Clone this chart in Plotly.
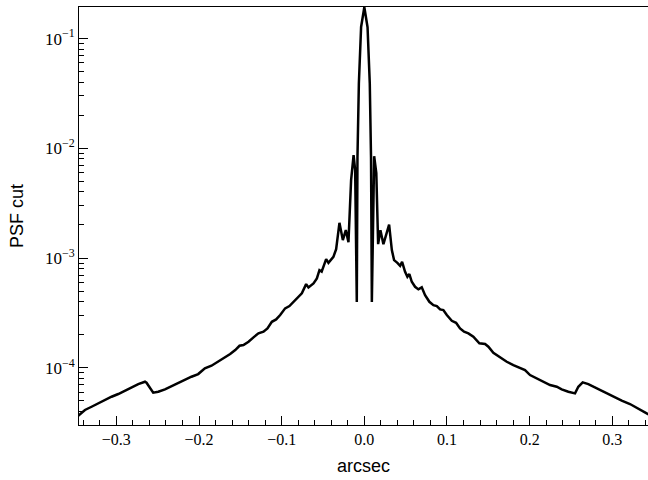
import plotly.graph_objects as go

# PSF cut (arcsec, PSF value)
wing_left_x = [-0.3502, -0.3380, -0.3300, -0.3219, -0.3138, -0.3058, -0.2977, -0.2896, -0.2816,
               -0.2735, -0.2654, -0.2635, -0.2554, -0.2493, -0.2412, -0.2333, -0.2252, -0.2170,
               -0.2091, -0.2010, -0.1929, -0.1849, -0.1768, -0.1683, -0.1623, -0.1562, -0.1510,
               -0.1462, -0.1401, -0.1341, -0.1281, -0.1220, -0.1172, -0.1119, -0.1067, -0.1018,
               -0.0958, -0.0906, -0.0857, -0.0809, -0.0756, -0.0704, -0.0676, -0.0615, -0.0574,
               -0.0543, -0.0516, -0.0462, -0.0434, -0.0374, -0.0341]
wing_left_y = [3.44e-5, 4.12e-5, 4.41e-5, 4.74e-5, 5.08e-5, 5.44e-5, 5.76e-5, 6.17e-5, 6.63e-5,
               7.10e-5, 7.46e-5, 7.30e-5, 5.92e-5, 6.04e-5, 6.36e-5, 6.81e-5, 7.21e-5, 7.73e-5,
               8.28e-5, 8.76e-5, 9.87e-5, 1.043e-4, 1.134e-4, 1.259e-4, 1.333e-4, 1.449e-4, 1.586e-4,
               1.609e-4, 1.725e-4, 1.891e-4, 2.057e-4, 2.128e-4, 2.285e-4, 2.623e-4, 2.759e-4, 3.020e-4,
               3.475e-4, 3.646e-4, 3.991e-4, 4.285e-4, 4.760e-4, 5.785e-4, 5.398e-4, 5.871e-4, 6.52e-4,
               7.76e-4, 7.52e-4, 9.77e-4, 9.04e-4, 1.025e-3, 1.205e-3]

core_x = [-0.0301, -0.0260, -0.0224, -0.0192, -0.0160, -0.0130, -0.0111, -0.0091, -0.0083,
          -0.0066, -0.0039, 0.0, 0.0039, 0.0066, 0.0081, 0.0091, 0.0119, 0.0145, 0.0167,
          0.0195, 0.0231, 0.0267, 0.0300, 0.0333]
core_y = [2.092e-3, 1.456e-3, 1.795e-3, 1.396e-3, 5.12e-3, 8.65e-3, 6.32e-3, 3.97e-4, 8.30e-3,
          3.92e-2, 0.1275, 0.1927, 0.127, 3.9e-2, 8.3e-3, 3.97e-4, 8.47e-3, 5.93e-3, 1.338e-3,
          1.795e-3, 1.338e-3, 1.651e-3, 2.014e-3, 1.180e-3]

wing_right_x = [0.0360, 0.0400, 0.0433, 0.0457, 0.0493, 0.0521, 0.0545, 0.0574, 0.0614, 0.0654,
                0.0695, 0.0735, 0.0787, 0.0836, 0.0877, 0.0917, 0.0956, 0.0998, 0.1058, 0.1110,
                0.1158, 0.1207, 0.1259, 0.1319, 0.1392, 0.1461, 0.1501, 0.1561, 0.1642, 0.1723,
                0.1803, 0.1884, 0.1944, 0.2005, 0.2086, 0.2166, 0.2247, 0.2328, 0.2388, 0.2468,
                0.2549, 0.2589, 0.2642, 0.2710, 0.2811, 0.2912, 0.3012, 0.3114, 0.3214, 0.3314,
                0.3416, 0.3480]
wing_right_y = [9.57e-4, 9.04e-4, 8.49e-4, 9.23e-4, 7.48e-4, 6.74e-4, 7.14e-4, 6.07e-4, 5.47e-4, 5.18e-4,
                5.40e-4, 4.59e-4, 3.99e-4, 3.72e-4, 3.65e-4, 3.40e-4, 3.35e-4, 3.02e-4, 2.68e-4, 2.57e-4,
                2.285e-4, 2.128e-4, 2.057e-4, 1.916e-4, 1.668e-4, 1.644e-4, 1.553e-4, 1.369e-4, 1.243e-4, 1.134e-4,
                1.058e-4, 9.87e-5, 9.53e-5, 8.58e-5, 8.01e-5, 7.46e-5, 6.96e-5, 6.71e-5, 6.36e-5, 6.04e-5,
                5.84e-5, 6.71e-5, 7.36e-5, 7.10e-5, 6.49e-5, 5.92e-5, 5.44e-5, 5.01e-5, 4.67e-5, 4.27e-5,
                3.84e-5, 3.59e-5]

y_major_vals = [1e-4, 1e-3, 1e-2, 1e-1]
y_major_text = ["10<sup>−4</sup>", "10<sup>−3</sup>", "10<sup>−2</sup>", "10<sup>−1</sup>"]
y_minor_vals = [m * 10.0 ** e for e in range(-5, 0) for m in range(2, 10)]

x = wing_left_x + core_x + wing_right_x
y = wing_left_y + core_y + wing_right_y

fig = go.Figure()
fig.add_trace(go.Scatter(x=x, y=y, mode="lines",
                         line=dict(color="black", width=2.5), showlegend=False))

serif = "Liberation Serif, Times New Roman, serif"
sans = "Liberation Sans, Arial, sans-serif"

fig.update_layout(
    width=648, height=480, autosize=False,
    margin=dict(l=79, r=0, t=7, b=55),
    paper_bgcolor="white", plot_bgcolor="white",
    xaxis=dict(
        range=[-0.3452, 0.3432], tick0=0, dtick=0.1, tickformat=".1f",
        ticks="inside", ticklen=9, tickwidth=1, tickcolor="black",
        showline=True, linecolor="black", linewidth=1, mirror=True,
        showgrid=False, zeroline=False,
        minor=dict(dtick=0.02, tick0=0, ticks="inside", ticklen=5, tickcolor="black", showgrid=False),
        tickfont=dict(family=serif, size=16, color="black"),
        title=dict(text="arcsec", font=dict(family=sans, size=18, color="black"), standoff=12),
    ),
    yaxis=dict(
        type="log", range=[-4.5219, -0.7122],
        tickmode="array", tickvals=y_major_vals, ticktext=y_major_text,
        ticks="inside", ticklen=9, tickwidth=1, tickcolor="black",
        showline=True, linecolor="black", linewidth=1,
        showgrid=False, zeroline=False,
        minor=dict(tickmode="array", tickvals=y_minor_vals, ticks="inside", ticklen=5,
                   tickcolor="black", showgrid=False),
        tickfont=dict(family=serif, size=17, color="black"),
        title=dict(text="PSF cut", font=dict(family=sans, size=18, color="black"), standoff=16),
    ),
)

fig.write_html("out.html", config={"displayModeBar": False},
               post_script="document.body.style.margin='0';document.body.style.overflow='hidden';")
